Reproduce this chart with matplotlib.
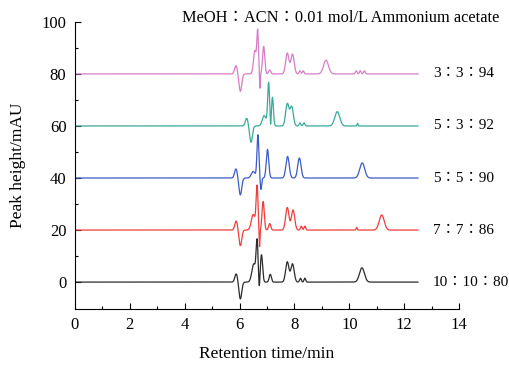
import numpy as np
import matplotlib.pyplot as plt

plt.rcParams["font.family"] = ["Liberation Serif", "Noto Sans CJK SC", "DejaVu Sans"]

# Peak tables: retention time (min), height (mAU), width (min)
labels = ["10∶10∶80", "7∶7∶86", "5∶5∶90", "5∶3∶92", "3∶3∶94"]
offsets = [0, 20, 40, 60, 80]
colors = ["#2b2b2b", "#f03c3c", "#3a5cc4", "#3aa89b", "#d77cc8"]

rt_black = [5.88, 6.03, 6.52, 6.64, 6.72, 6.80, 7.12, 7.74, 7.93, 8.22, 8.38, 10.46]
h_black = [3.2, -6.5, 7.0, 15.0, -4.0, 10.5, 3.0, 7.8, 7.0, 1.5, 1.5, 5.5]
w_black = [0.05, 0.05, 0.07, 0.035, 0.02, 0.04, 0.04, 0.06, 0.06, 0.03, 0.03, 0.09]

rt_red = [5.88, 6.03, 6.50, 6.64, 6.73, 6.86, 7.10, 7.74, 7.95, 8.25, 8.38, 10.27, 11.18]
h_red = [3.5, -6.0, 6.0, 16.5, -7.0, 11.0, 2.5, 8.7, 7.7, 1.5, 1.5, 1.0, 5.8]
w_red = [0.05, 0.05, 0.07, 0.035, 0.015, 0.04, 0.04, 0.06, 0.06, 0.03, 0.03, 0.02, 0.09]

rt_blue = [5.87, 6.03, 6.50, 6.67, 6.78, 7.02, 7.75, 8.18, 10.47]
h_blue = [3.5, -6.5, 2.5, 16.5, -4.5, 11.0, 8.3, 7.7, 5.8]
w_blue = [0.05, 0.05, 0.07, 0.035, 0.025, 0.045, 0.06, 0.06, 0.09]

rt_teal = [6.26, 6.42, 6.90, 7.06, 7.13, 7.20, 7.74, 7.90, 8.20, 8.35, 9.56, 10.30]
h_teal = [3.0, -6.3, 4.0, 16.5, -3.0, 11.0, 8.5, 7.4, 1.2, 1.2, 5.5, 1.0]
w_teal = [0.05, 0.05, 0.07, 0.035, 0.015, 0.035, 0.06, 0.06, 0.03, 0.03, 0.09, 0.02]

rt_pink = [5.87, 6.03, 6.56, 6.66, 6.74, 6.88, 7.10, 7.74, 7.93, 8.20, 8.32, 9.15, 10.25, 10.40, 10.55]
h_pink = [3.2, -6.7, 9.0, 16.0, -6.0, 10.6, 1.5, 8.0, 7.6, 1.2, 1.2, 5.3, 1.2, 1.2, 1.2]
w_pink = [0.05, 0.05, 0.05, 0.03, 0.015, 0.04, 0.04, 0.06, 0.06, 0.03, 0.03, 0.09, 0.03, 0.03, 0.03]

peaks = [
    (rt_black, h_black, w_black),
    (rt_red, h_red, w_red),
    (rt_blue, h_blue, w_blue),
    (rt_teal, h_teal, w_teal),
    (rt_pink, h_pink, w_pink),
]

t = np.linspace(0, 12.5, 3000)

fig = plt.figure(figsize=(5.09, 3.65), dpi=100)
ax = fig.add_axes([0.147, 0.153, 0.755, 0.787])

for (rt, h, w), off, color, label in zip(peaks, offsets, colors, labels):
    signal = np.full_like(t, float(off))
    for r, a, s in zip(rt, h, w):
        signal += a * np.exp(-0.5 * ((t - r) / s) ** 2)
    ax.plot(t, signal, color=color, lw=0.9)
    ax.text(13.05, off, label, fontsize=11, va="center", ha="left")

ax.text(9.7, 101.5, "MeOH∶ACN∶0.01 mol/L Ammonium acetate", fontsize=11.8,
        ha="center", va="center")

ax.set_xlim(0, 14)
ax.set_ylim(-10.4, 100)
ax.set_xticks(range(0, 15, 2))
ax.set_xticks(range(1, 14, 2), minor=True)
ax.set_yticks(range(0, 101, 20))
ax.set_yticks(range(10, 100, 20), minor=True)
ax.tick_params(direction="in", length=4, width=0.8, labelsize=12, pad=6)
ax.tick_params(which="minor", direction="in", length=2, width=0.8)
ax.spines["top"].set_visible(False)
ax.spines["right"].set_visible(False)
ax.set_xlabel("Retention time/min", fontsize=12.5, labelpad=9)
ax.set_ylabel("Peak height/mAU", fontsize=12.5, labelpad=11)

fig.savefig("out.png", dpi=100)
